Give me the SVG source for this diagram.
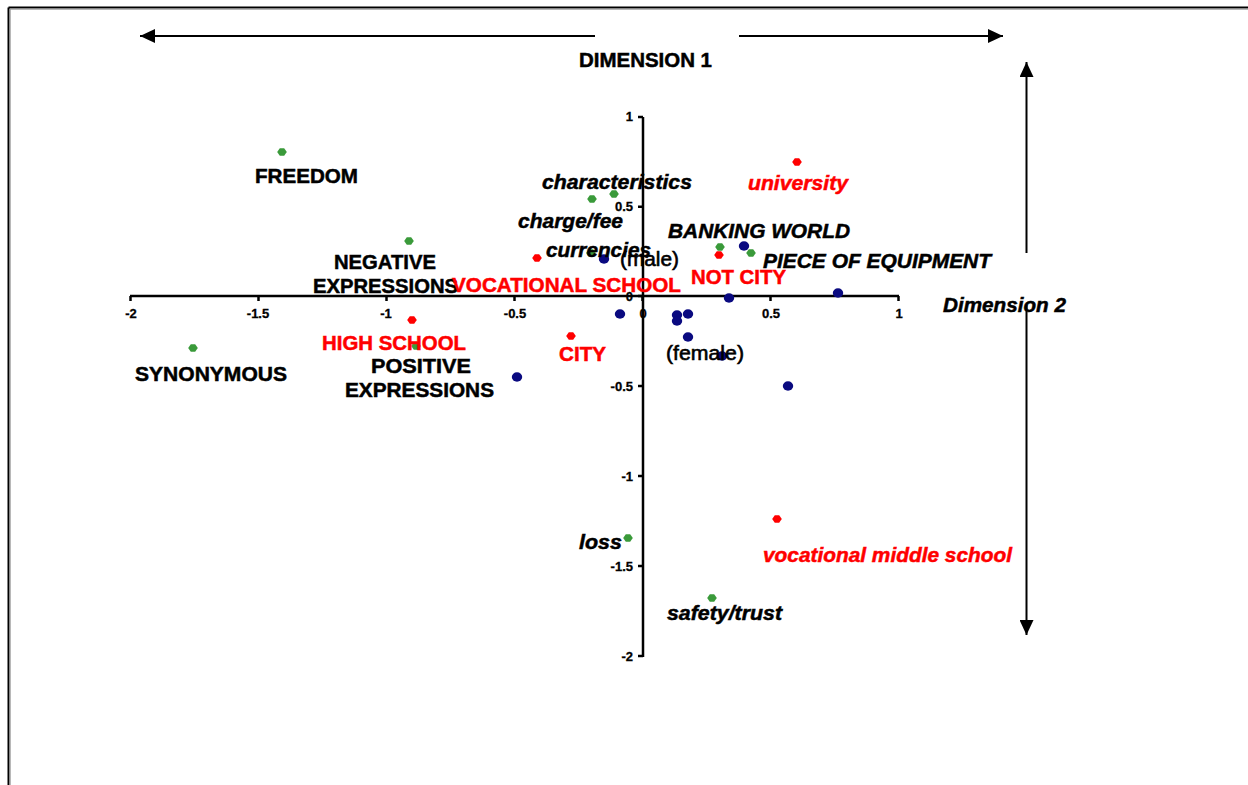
<svg xmlns="http://www.w3.org/2000/svg" xmlns:xlink="http://www.w3.org/1999/xlink" width="1248" height="785" viewBox="0 0 1248 785">
<style>
.lbl{font-family:"Liberation Sans",Arial,sans-serif;font-size:20.5px;font-weight:bold;fill:#000;stroke:#000;stroke-width:0.5}
.it{font-style:italic}
.red{fill:#ff0000;stroke:#ff0000}
.nw{font-weight:normal;stroke-width:0.6}
.tk{font-family:"Liberation Sans",Arial,sans-serif;font-size:13px;font-weight:bold;fill:#000;stroke:#000;stroke-width:0.3}
.ax{stroke:#000;stroke-width:2.5;fill:none}
.arr{stroke:#000;stroke-width:2;fill:none}
.g{fill:#3a9a3a}
.r{fill:#ff0000}
.b{fill:#0a0a80}
</style>
<defs>
<path id="dia" d="M-4.8,0 L-2.2,-3.7 L2.2,-3.7 L4.8,0 L2.2,3.7 L-2.2,3.7Z"/>
<ellipse id="dot" cx="0" cy="0" rx="5.2" ry="4.7"/>
<marker id="ah" viewBox="0 0 15 14" refX="15" refY="7" markerWidth="15" markerHeight="14" markerUnits="userSpaceOnUse" orient="auto">
<path d="M0,0 L15,7 L0,14Z" fill="#000"/>
</marker>
</defs>
<rect width="1248" height="785" fill="#fff"/>
<g id="frame">
<line x1="8.5" y1="7.5" x2="1248" y2="7.5" stroke="#000" stroke-width="2"/>
<line x1="8.5" y1="7.5" x2="8.5" y2="785" stroke="#000" stroke-width="2"/>
<line x1="10" y1="9.2" x2="1248" y2="9.2" stroke="#999" stroke-width="1"/>
<line x1="10.2" y1="9" x2="10.2" y2="785" stroke="#999" stroke-width="1"/>
</g>
<g id="connectors">
<line class="arr" x1="595" y1="36" x2="140" y2="36" marker-end="url(#ah)"/>
<line class="arr" x1="739" y1="36" x2="1003" y2="36" marker-end="url(#ah)"/>
<line class="arr" x1="1026.5" y1="253" x2="1026.5" y2="62" marker-end="url(#ah)"/>
<line class="arr" x1="1026.5" y1="305" x2="1026.5" y2="635" marker-end="url(#ah)"/>
</g>
<g id="axes">
<line class="ax" x1="130" y1="296" x2="899" y2="296"/>
<line class="ax" x1="643" y1="117" x2="643" y2="657"/>
<path class="ax" d="M130.5,296 v5 M258.5,296 v5 M386.5,296 v5 M514.5,296 v5 M642.5,296 v5 M770.5,296 v5 M898.5,296 v5"/>
<path class="ax" d="M643,117 h-5 M643,206.7 h-5 M643,296 h-5 M643,386 h-5 M643,476 h-5 M643,566 h-5 M643,656 h-5"/>
<g text-anchor="middle">
<text class="tk" x="131" y="318">-2</text>
<text class="tk" x="258" y="318">-1.5</text>
<text class="tk" x="386" y="318">-1</text>
<text class="tk" x="515" y="318">-0.5</text>
<text class="tk" x="643" y="318">0</text>
<text class="tk" x="771" y="318">0.5</text>
<text class="tk" x="899" y="318">1</text>
</g>
<g text-anchor="end">
<text class="tk" x="633" y="121">1</text>
<text class="tk" x="633" y="211">0.5</text>
<text class="tk" x="633" y="301">0</text>
<text class="tk" x="633" y="391">-0.5</text>
<text class="tk" x="633" y="481">-1</text>
<text class="tk" x="633" y="571">-1.5</text>
<text class="tk" x="633" y="661">-2</text>
</g>
</g>
<g id="points">
<g class="g">
<use xlink:href="#dia" x="282" y="152"/>
<use xlink:href="#dia" x="409" y="241"/>
<use xlink:href="#dia" x="193" y="348"/>
<use xlink:href="#dia" x="416" y="346"/>
<use xlink:href="#dia" x="592" y="199"/>
<use xlink:href="#dia" x="614" y="194"/>
<use xlink:href="#dia" x="591" y="253"/>
<use xlink:href="#dia" x="720" y="247"/>
<use xlink:href="#dia" x="751" y="253"/>
<use xlink:href="#dia" x="628" y="538"/>
<use xlink:href="#dia" x="712" y="598"/>
</g>
<g class="r">
<use xlink:href="#dia" x="797" y="162"/>
<use xlink:href="#dia" x="537" y="258"/>
<use xlink:href="#dia" x="719" y="255"/>
<use xlink:href="#dia" x="412" y="320"/>
<use xlink:href="#dia" x="571" y="336"/>
<use xlink:href="#dia" x="777" y="519"/>
</g>
<g class="b">
<use xlink:href="#dot" x="604" y="259"/>
<use xlink:href="#dot" x="744" y="246"/>
<use xlink:href="#dot" x="729" y="298"/>
<use xlink:href="#dot" x="838" y="293"/>
<use xlink:href="#dot" x="620" y="314"/>
<use xlink:href="#dot" x="677" y="315"/>
<use xlink:href="#dot" x="688" y="314"/>
<use xlink:href="#dot" x="677" y="321"/>
<use xlink:href="#dot" x="688" y="337"/>
<use xlink:href="#dot" x="722" y="356"/>
<use xlink:href="#dot" x="788" y="386"/>
<use xlink:href="#dot" x="517" y="377"/>
</g>
</g>
<g id="labels">
<text id="dim1" class="lbl" x="579" y="67" textLength="133" lengthAdjust="spacingAndGlyphs">DIMENSION 1</text>
<text id="dim2" class="lbl it" x="943" y="312" textLength="123" lengthAdjust="spacingAndGlyphs">Dimension 2</text>
<text id="freedom" class="lbl" x="255" y="183" textLength="103" lengthAdjust="spacingAndGlyphs">FREEDOM</text>
<g id="negative">
<text class="lbl" x="334" y="269" textLength="102" lengthAdjust="spacingAndGlyphs">NEGATIVE</text>
<text class="lbl" x="313" y="293" textLength="145" lengthAdjust="spacingAndGlyphs">EXPRESSIONS</text>
</g>
<text id="synonymous" class="lbl" x="135" y="381" textLength="152" lengthAdjust="spacingAndGlyphs">SYNONYMOUS</text>
<g id="positive">
<text class="lbl" x="371" y="373" textLength="100" lengthAdjust="spacingAndGlyphs">POSITIVE</text>
<text class="lbl" x="345" y="397" textLength="149" lengthAdjust="spacingAndGlyphs">EXPRESSIONS</text>
</g>
<text id="highschool" class="lbl red" x="322" y="350" textLength="144" lengthAdjust="spacingAndGlyphs">HIGH SCHOOL</text>
<text id="vocschool" class="lbl red" x="452" y="292" textLength="229" lengthAdjust="spacingAndGlyphs">VOCATIONAL SCHOOL</text>
<text id="city" class="lbl red" x="559" y="361" textLength="47" lengthAdjust="spacingAndGlyphs">CITY</text>
<text id="characteristics" class="lbl it" x="542" y="189" textLength="150" lengthAdjust="spacingAndGlyphs">characteristics</text>
<text id="chargefee" class="lbl it" x="518" y="228" textLength="105" lengthAdjust="spacingAndGlyphs">charge/fee</text>
<text id="currencies" class="lbl it" x="546" y="257" textLength="105" lengthAdjust="spacingAndGlyphs">currencies</text>
<text id="male" class="lbl nw" x="620" y="266" textLength="59" lengthAdjust="spacingAndGlyphs">(male)</text>
<text id="banking" class="lbl it" x="668" y="238" textLength="182" lengthAdjust="spacingAndGlyphs">BANKING WORLD</text>
<text id="notcity" class="lbl red" x="691" y="284" textLength="95" lengthAdjust="spacingAndGlyphs">NOT CITY</text>
<text id="equipment" class="lbl it" x="763" y="268" textLength="228" lengthAdjust="spacingAndGlyphs">PIECE OF EQUIPMENT</text>
<text id="university" class="lbl it red" x="748" y="190" textLength="100" lengthAdjust="spacingAndGlyphs">university</text>
<text id="female" class="lbl nw" x="666" y="360" textLength="78" lengthAdjust="spacingAndGlyphs">(female)</text>
<text id="loss" class="lbl it" x="579" y="549" textLength="43" lengthAdjust="spacingAndGlyphs">loss</text>
<text id="vocmiddle" class="lbl it red" x="763" y="562" textLength="249" lengthAdjust="spacingAndGlyphs">vocational middle school</text>
<text id="safety" class="lbl it" x="667" y="620" textLength="115" lengthAdjust="spacingAndGlyphs">safety/trust</text>
</g>
</svg>
